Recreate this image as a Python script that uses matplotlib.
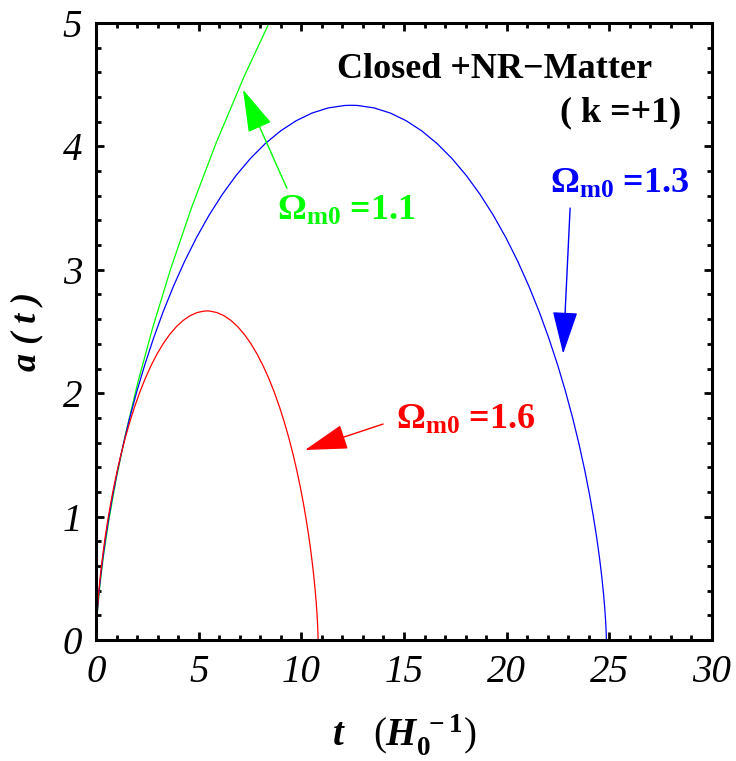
import matplotlib
matplotlib.use("Agg")
import matplotlib.pyplot as plt
from matplotlib.ticker import MultipleLocator

# ---- data ----
# Omega_m0 = 1.6 (red)
t_16 = [0, 0.00029, 0.00229, 0.00771, 0.01822, 0.03541, 0.06086, 0.09602, 0.14226, 0.20083,
        0.27288, 0.35940, 0.46125, 0.57913, 0.71358, 0.86498, 1.03353, 1.21928, 1.42208,
        1.64163, 1.87746, 2.12893, 2.39524, 2.67546, 2.96850, 3.27314, 3.58811, 3.91193,
        4.24310, 4.58003, 4.92108, 5.26460, 5.40771,
        5.55087, 5.89434, 6.23539, 6.57232, 6.90348, 7.22731, 7.54228, 7.84692, 8.13996,
        8.42018, 8.68649, 8.93796, 9.17379, 9.39334, 9.59614, 9.78189, 9.95044, 10.10184,
        10.23629, 10.35417, 10.45602, 10.54254, 10.61459, 10.67316, 10.71940, 10.75456,
        10.78001, 10.79720, 10.80771, 10.81313, 10.81513, 10.81542]
a_16 = [0, 0.00666, 0.02658, 0.05955, 0.10525, 0.16322, 0.23289, 0.31354, 0.40439, 0.50452,
        0.61293, 0.72854, 0.85019, 0.97667, 1.10671, 1.23902, 1.37227, 1.50513, 1.63627,
        1.76439, 1.88820, 2.00646, 2.11800, 2.22170, 2.31653, 2.40153, 2.47585, 2.53876,
        2.58963, 2.62794, 2.65332, 2.66551, 2.66667,
        2.66551, 2.65332, 2.62794, 2.58963, 2.53876, 2.47585, 2.40153, 2.31653, 2.22170,
        2.11800, 2.00646, 1.88820, 1.76439, 1.63627, 1.50513, 1.37227, 1.23902, 1.10671,
        0.97667, 0.85019, 0.72854, 0.61293, 0.50452, 0.40439, 0.31354, 0.23289,
        0.16322, 0.10525, 0.05955, 0.02658, 0.00666, 0]

# Omega_m0 = 1.3 (blue)
t_13 = [0, 0.00066, 0.00527, 0.01772, 0.04186, 0.08139, 0.13987, 0.22066, 0.32692, 0.46153,
        0.62710, 0.82594, 1.05999, 1.33089, 1.63986, 1.98780, 2.37515, 2.80201, 3.26807,
        3.77262, 4.31457, 4.89246, 5.50447, 6.14843, 6.82187, 7.52201, 8.24580, 8.99000,
        9.75102, 10.52531, 11.30906, 12.09840, 12.42744,
        12.75648, 13.54582, 14.32956, 15.10386, 15.86492, 16.60908, 17.33287, 18.03301,
        18.70645, 19.35041, 19.96242, 20.54031, 21.08226, 21.58681, 22.05287, 22.47973,
        22.86708, 23.21502, 23.52399, 23.79489, 24.02894, 24.22778, 24.39335, 24.52796,
        24.63422, 24.71501, 24.77349, 24.81302, 24.83716, 24.84961, 24.85422, 24.85488]
a_13 = [0, 0.01083, 0.04319, 0.09677, 0.17104, 0.26524, 0.37844, 0.50951, 0.65714, 0.81985,
        0.99601, 1.18388, 1.38156, 1.58709, 1.79841, 2.01340, 2.22993, 2.44583, 2.65894,
        2.86713, 3.06832, 3.26050, 3.44175, 3.61027, 3.76435, 3.90248, 4.02326, 4.12549,
        4.20815, 4.27041, 4.31165, 4.33146, 4.33333,
        4.33146, 4.31165, 4.27041, 4.20815, 4.12549, 4.02326, 3.90248, 3.76435,
        3.61027, 3.44175, 3.26050, 3.06832, 2.86713, 2.65894, 2.44583, 2.22993,
        2.01340, 1.79841, 1.58709, 1.38156, 1.18388, 0.99601, 0.81985, 0.65714,
        0.50951, 0.37844, 0.26524, 0.17104, 0.09677, 0.04319, 0.01083, 0]

# Omega_m0 = 1.1 (green)
t_11 = [0, 0.0029, 0.0232, 0.0779, 0.1841, 0.3578, 0.6150, 0.9702, 1.4374, 2.0292,
        2.7572, 3.6314, 4.6605, 5.8516, 7.2101, 8.7398, 10.4429]
a_11 = [0, 0.0275, 0.1096, 0.2457, 0.4342, 0.6733, 0.9607, 1.2934, 1.6681, 2.0812,
        2.5283, 3.0052, 3.5070, 4.0288, 4.5652, 5.1110, 5.6606]

labels = [r"$\mathbf{\Omega_{m0}}$ =1.1", r"$\mathbf{\Omega_{m0}}$ =1.3", r"$\mathbf{\Omega_{m0}}$ =1.6"]
colors = ["#00ff00", "#0000ff", "#ff0000"]

x_ticks = [0, 5, 10, 15, 20, 25, 30]
y_ticks = [0, 1, 2, 3, 4, 5]

plt.rcParams["mathtext.fontset"] = "custom"
plt.rcParams["mathtext.rm"] = "Liberation Serif:bold"
plt.rcParams["mathtext.bf"] = "Liberation Serif:bold"
plt.rcParams["mathtext.it"] = "Liberation Serif:bold:italic"

fig = plt.figure(figsize=(7.36, 7.61), dpi=100)
ax = fig.add_axes([96/736, 1-640/761, (712-96)/736, (640-23)/761])

lw = 0.9
ax.plot(t_11, a_11, color=colors[0], lw=lw)
ax.plot(t_13, a_13, color=colors[1], lw=lw)
ax.plot(t_16, a_16, color=colors[2], lw=lw)

ax.set_xlim(0, 30)
ax.set_ylim(0, 5)
ax.set_xticks(x_ticks)
ax.set_yticks(y_ticks)
ax.xaxis.set_minor_locator(MultipleLocator(1))
ax.yaxis.set_minor_locator(MultipleLocator(0.2))
ax.tick_params(which="both", direction="in", top=True, right=True, width=2.0)
ax.tick_params(which="major", length=6, pad=10)
ax.tick_params(which="minor", length=3.5)
for s in ax.spines.values():
    s.set_linewidth(2.2)
for lab in ax.get_xticklabels() + ax.get_yticklabels():
    lab.set_fontfamily("Liberation Serif")
    lab.set_fontstyle("italic")
    lab.set_fontsize(28)

ax.set_xlabel(r"$t\quad$(" + r"$H_{0}^{\;-1}$" + ")", fontsize=28, family="Liberation Serif",
              labelpad=16)
ax.set_ylabel("a ( t )", fontsize=26, family="Liberation Serif", fontweight="bold",
              fontstyle="italic", labelpad=14)

tfont = dict(family="Liberation Serif", fontweight="bold", fontsize=26)
ax.text(19.4, 4.62, "Closed +NR\u2212Matter", ha="center", va="center", color="black", **tfont)
ax.text(25.55, 4.27, "( k =+1)", ha="center", va="center", color="black", **tfont)

lfont = dict(family="Liberation Serif", fontweight="bold", fontsize=26)
ax.text(12.2, 3.47, labels[0], ha="center", va="center", color=colors[0], **lfont)
ax.text(25.5, 3.69, labels[1], ha="center", va="center", color=colors[1], **lfont)
ax.text(18.0, 1.78, labels[2], ha="center", va="center", color=colors[2], **lfont)

aprops = lambda c: dict(arrowstyle="-|>,head_length=1.7,head_width=0.5", color=c, lw=1.0,
                        mutation_scale=16, shrinkA=0, shrinkB=0)
ax.annotate("", xy=(7.16, 4.46), xytext=(9.30, 3.66), arrowprops=aprops(colors[0]))
ax.annotate("", xy=(22.75, 2.32), xytext=(23.09, 3.50), arrowprops=aprops(colors[1]))
ax.annotate("", xy=(10.18, 1.54), xytext=(13.98, 1.75), arrowprops=aprops(colors[2]))

fig.savefig("out.png", dpi=100)
